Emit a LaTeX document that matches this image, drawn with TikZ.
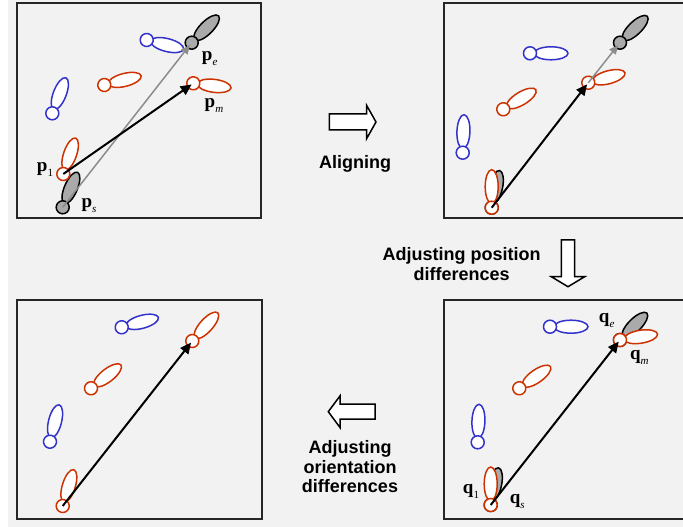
\documentclass[tikz,border=0pt]{standalone}
\usepackage{fontspec}
\setmainfont{Liberation Sans}
\newfontfamily\lblfont{Liberation Serif}
\usetikzlibrary{arrows.meta}
\definecolor{limbred}{HTML}{CC3300}
\definecolor{limbblue}{HTML}{3333CC}
\definecolor{limbgray}{HTML}{AAAAAA}
\definecolor{bggray}{HTML}{F2F2F2}
% joint circle with its limb ellipse: name, joint, angle, line, fill
\newcommand{\limb}[5]{%
  \begin{scope}[shift={(#2)},rotate=#3]
    \coordinate (#1) at (0,0);
    \draw[#4,fill=#5] (21,0) ellipse (17 and 6.5);
    \draw[#4,fill=#5] (0,0) circle (6.5);
  \end{scope}}
\newcommand{\vlab}[2]{{\lblfont\bfseries #1}{\lblfont\fontsize{11}{11}\selectfont\itshape\raisebox{-5pt}{#2}}}
\tikzset{
  frame/.style={draw=black!85,line width=1.5pt,fill=bggray},
  blockarrow/.style={draw,line width=1.5pt,fill=white,line join=miter},
  steplabel/.style={font=\fontsize{18}{19.5}\selectfont\bfseries,align=center,inner sep=0pt},
  veclabel/.style={font=\fontsize{19}{20}\selectfont,inner sep=0pt},
  mainvec/.style={line width=2pt,-{Triangle[length=11pt,width=10pt]},shorten >=2pt},
  greyvec/.style={draw=black!45,line width=1.5pt,-{Triangle[length=9pt,width=8pt]},shorten >=3pt}
}
\begin{document}
\begin{tikzpicture}[x=1pt,y=1pt,line width=1.5pt]
  \useasboundingbox (0,0) rectangle (683,527);
  \fill[bggray] (8,0) rectangle (683,527);

  % top left: before aligning
  \draw[frame] (17,309) rectangle (261,524);
  \limb{ps}{62.7,319.7}{67}{black}{limbgray}
  \limb{pe}{191.7,484.3}{45}{black}{limbgray}
  \limb{a1}{146.7,487}{-14}{limbblue}{white}
  \limb{a2}{104.3,442}{14}{limbred}{white}
  \limb{pm}{193.3,443.7}{-7}{limbred}{white}
  \limb{a3}{52.3,413.7}{69}{limbblue}{white}
  \limb{p1}{63.3,353}{71}{limbred}{white}
  \draw[greyvec] (ps) -- (pe);
  \draw[mainvec] (p1) -- (pm);
  \node[veclabel] (lpe) at (209.7,468.7) {\vlab{p}{e}};
  \node[veclabel] (lpm) at (214,421.3) {\vlab{p}{m}};
  \node[veclabel] (lp1) at (45,357.7) {\vlab{p}{\upshape 1}};
  \node[veclabel] (lps) at (89,321.3) {\vlab{p}{s}};

  % top right: aligned
  \draw[frame] (444,309) rectangle (686,524);
  \limb{b0}{491.7,319.3}{78}{black}{limbgray}
  \limb{be}{620,484.3}{44}{black}{limbgray}
  \limb{b1}{530,473.7}{0}{limbblue}{white}
  \limb{bm}{588.3,444.3}{15}{limbred}{white}
  \limb{b2}{503.3,417.7}{31}{limbred}{white}
  \limb{b3}{462.7,374.3}{88}{limbblue}{white}
  \limb{bs}{491.7,319.3}{90}{limbred}{white}
  \draw[greyvec] (bm) -- (be);
  \draw[mainvec] (bs) -- (bm);

  % bottom right: positions adjusted
  \draw[frame] (444,8) rectangle (686,227);
  \limb{c0}{490.7,22}{78}{black}{limbgray}
  \limb{ce}{620,187}{45}{black}{limbgray}
  \limb{c1}{550,200.3}{0}{limbblue}{white}
  \limb{cm}{620,187}{9}{limbred}{white}
  \limb{c2}{519.3,138.7}{35}{limbred}{white}
  \limb{c3}{477.7,84.7}{88}{limbblue}{white}
  \limb{cs}{490.7,22}{90}{limbred}{white}
  \draw[mainvec] (cs) -- (cm);
  \node[veclabel] (lqe) at (606.7,206.3) {\vlab{q}{e}};
  \node[veclabel] (lqm) at (639.3,169.3) {\vlab{q}{m}};
  \node[veclabel] (lq1) at (471,35.3) {\vlab{q}{\upshape 1}};
  \node[veclabel] (lqs) at (517.3,25.3) {\vlab{q}{s}};

  % bottom left: orientations adjusted
  \draw[frame] (17,8) rectangle (262,227);
  \limb{d1}{121.7,199.7}{15}{limbblue}{white}
  \limb{dm}{192.3,186}{48}{limbred}{white}
  \limb{d2}{91,138.7}{38}{limbred}{white}
  \limb{d3}{50,85.3}{76}{limbblue}{white}
  \limb{ds}{62.7,21}{73}{limbred}{white}
  \draw[mainvec] (ds) -- (dm);

  % steps
  \draw[blockarrow] (329.3,397) -- (366.7,397) -- (366.7,388.5) -- (376,405)
    -- (366.7,421.5) -- (366.7,413) -- (329.3,413) -- cycle;
  \node[steplabel] (align) at (355,363) {Aligning};
  \draw[blockarrow] (561.3,287) -- (561.3,250.3) -- (551.3,250.3) -- (568,240.3)
    -- (584.7,250.3) -- (574.7,250.3) -- (574.7,287) -- cycle;
  \node[steplabel] (posdiff) at (461.7,263) {Adjusting position\\differences};
  \draw[blockarrow] (375,107.8) -- (340,107.8) -- (340,99.5) -- (328.3,115.3)
    -- (340,131.1) -- (340,122.8) -- (375,122.8) -- cycle;
  \node[steplabel] (oridiff) at (350,60.3) {Adjusting\\orientation\\differences};
\end{tikzpicture}
\end{document}
